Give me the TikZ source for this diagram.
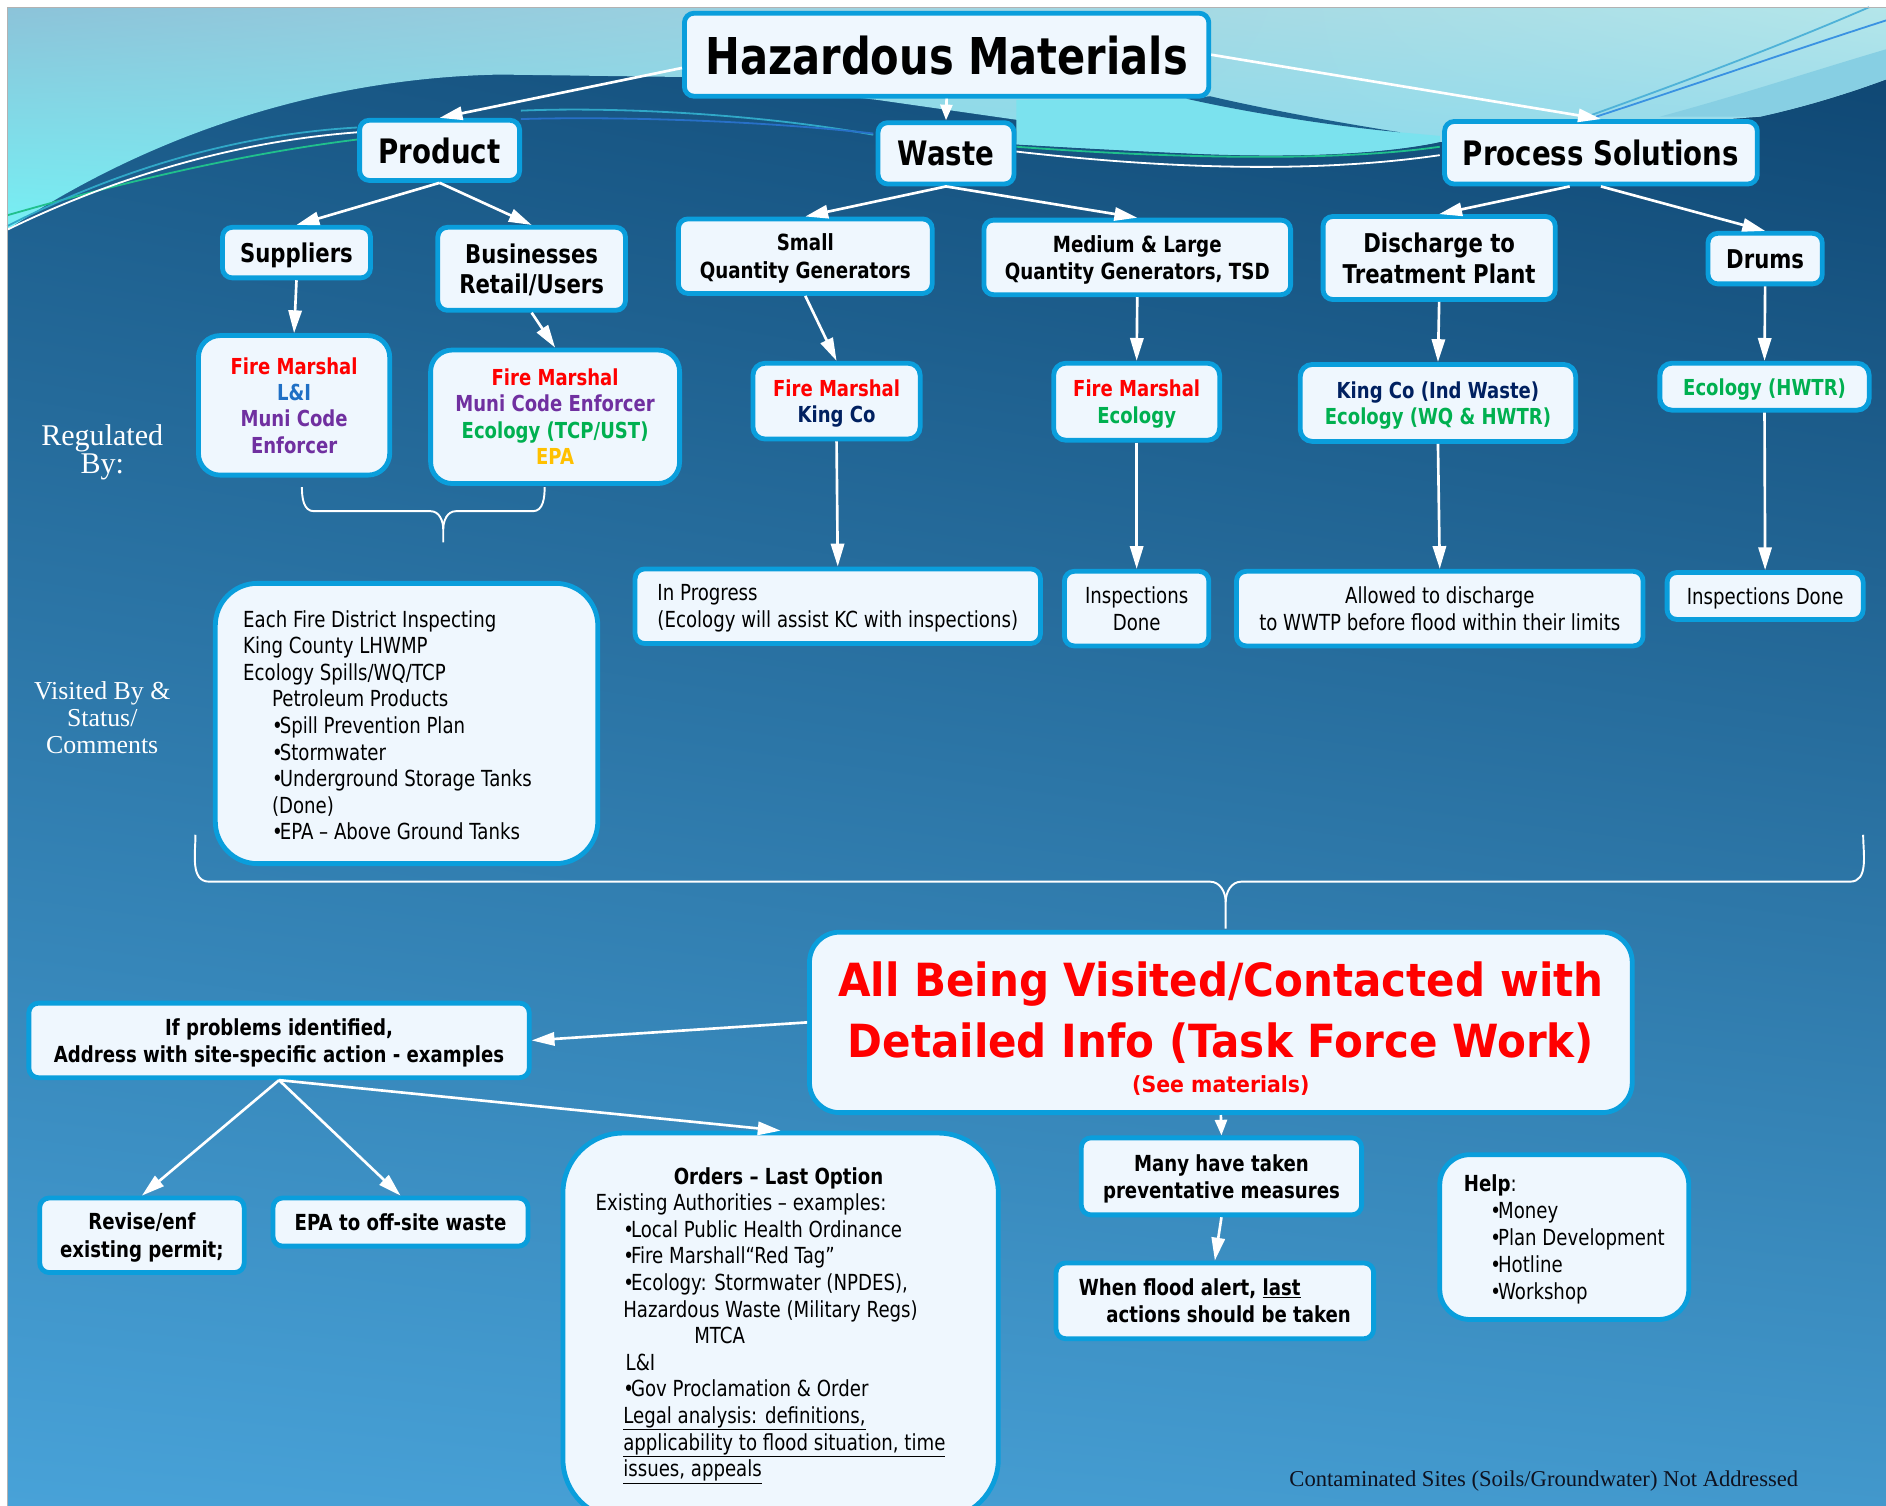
\documentclass[tikz,border=0pt]{standalone}
\usepackage{fontspec}
\setmainfont{DejaVu Sans}[FakeStretch=0.82]
\newfontfamily\redfnt{DejaVu Sans}[FakeStretch=0.92]
\newfontfamily\srf{Liberation Serif}
\usetikzlibrary{arrows.meta,shadings}
\definecolor{bord}{RGB}{10,158,220}
\definecolor{boxfill}{RGB}{239,247,254}
\definecolor{bgUL}{RGB}{24,87,133}
\definecolor{bgUR}{RGB}{13,68,112}
\definecolor{bgLL}{RGB}{72,162,216}
\definecolor{bgLR}{RGB}{66,152,204}
\definecolor{ltUL}{RGB}{140,195,217}
\definecolor{ltUR}{RGB}{180,230,234}
\definecolor{ltLL}{RGB}{118,240,244}
\definecolor{ltLR}{RGB}{134,210,236}
\definecolor{cyanband}{RGB}{123,226,238}
\definecolor{rband}{RGB}{135,207,227}
\definecolor{wedge}{RGB}{27,95,140}
\definecolor{lnGreen}{RGB}{32,192,140}
\definecolor{lnTeal}{RGB}{48,168,200}
\definecolor{lnBlue}{RGB}{40,112,200}
\definecolor{lnSky}{RGB}{79,178,216}
\definecolor{lnDeep}{RGB}{58,146,226}
\definecolor{fm}{RGB}{255,0,0}
\definecolor{li}{RGB}{31,111,197}
\definecolor{mc}{RGB}{112,48,160}
\definecolor{eco}{RGB}{0,176,80}
\definecolor{epa}{RGB}{255,192,0}
\definecolor{kc}{RGB}{0,32,96}
\definecolor{contam}{RGB}{14,18,32}
\newcommand\fTitle{\fontsize{42.2}{48}\selectfont\bfseries}
\newcommand\fOne{\fontsize{28}{32}\selectfont\bfseries}
\newcommand\fTwo{\fontsize{21.5}{25.5}\selectfont\bfseries}
\newcommand\fThree{\fontsize{18.5}{23}\selectfont\bfseries}
\newcommand\fReg{\fontsize{18.3}{22}\selectfont\bfseries}
\newcommand\fBody{\fontsize{18.4}{22.1}\selectfont}
\newcommand\fBodyB{\fontsize{18.4}{22.8}\selectfont\bfseries}
\newcommand\bul{•\kern-2.5pt}
\tikzset{
  hb/.style={draw=bord, fill=boxfill, line width=4pt, rounded corners=8pt,
    inner sep=0pt, align=center, text=black, text depth=-6pt},
  arr/.style={draw=white, line width=2.2pt, -{Triangle[length=19pt,width=11pt,fill=white]}},
  sarr/.style={draw=white, line width=2.2pt, -{Triangle[length=13pt,width=10pt,fill=white]}},
  ln/.style={line width=1.5pt},
  brace/.style={draw=white, line width=1.6pt},
  txt/.style={inner sep=0pt, text=black},
}
\begin{document}
\begin{tikzpicture}[x=1pt,y=-1pt]
\useasboundingbox (0,0) rectangle (1568,1252);
\clip (0,0) rectangle (1568,1252);
\fill[white] (0,0) rectangle (1568,1252);
% background
\shade[upper left=bgUL, upper right=bgUR, lower left=bgLL, lower right=bgLR] (6,6) rectangle (1568,1252);
% light wave region
\shade[upper left=ltUL, upper right=ltUR, lower left=ltLL, lower right=ltLR]
  (6,6) -- (1568,6) -- (1568,66) .. controls (1530,80) and (1495,90) .. (1463,97)
  -- (1197,118) .. controls (1150,128) and (1080,131) .. (1000,128)
  .. controls (930,125) and (880,122) .. (845,120) -- (848,100) -- (729,83)
  -- (567,64) -- (416,62)
  .. controls (300,64) and (150,95) .. (6,191) -- cycle;
% cyan band between Waste and Process Solutions
\fill[cyanband] (845,83) -- (986,82) .. controls (1030,92) and (1100,104) .. (1164,110)
  -- (1197,113) -- (1197,118) .. controls (1150,128) and (1080,131) .. (1000,128)
  .. controls (930,125) and (880,122) .. (845,120) -- cycle;
% dark wedge
\fill[wedge] (986,82) .. controls (1030,92) and (1100,104) .. (1164,110)
  .. controls (1100,100) and (1040,88) .. (1006,80) -- cycle;
% right band
\fill[rband] (1380,97) .. controls (1450,78) and (1510,58) .. (1568,41) -- (1568,66)
  .. controls (1530,80) and (1495,90) .. (1463,97) -- cycle;
% thin lines of the wave
\draw[ln, lnGreen] (6,179) .. controls (100,152) and (200,128) .. (297,116);
\draw[ln, white] (6,191) .. controls (90,150) and (190,118) .. (297,110);
\draw[ln, lnTeal] (6,188) .. controls (90,145) and (190,112) .. (297,106);
\draw[ln, lnTeal] (433,92) .. controls (500,89) and (620,93) .. (726,112);
\draw[ln, lnBlue] (433,99) .. controls (500,97) and (620,99) .. (726,111);
\draw[ln, lnGreen] (845,122) .. controls (950,130) and (1100,136) .. (1197,122);
\draw[ln, white] (845,126) .. controls (950,138) and (1080,146) .. (1197,129);
\draw[ln, lnSky] (1322,96) .. controls (1400,68) and (1480,38) .. (1554,6);
\draw[ln, lnDeep] (1327,97) .. controls (1410,70) and (1490,42) .. (1568,17);
\draw[gray!60, line width=0.8pt] (6,1252) -- (6,6) -- (1568,6);

% side labels
\node[inner sep=0pt, text=white, align=center, font={\srf\fontsize{25}{23}\selectfont}] (regby) at (85,376) {Regulated\\By:};
\node[inner sep=0pt, text=white, align=center, font={\srf\fontsize{21.5}{22.5}\selectfont}] (visited) at (85,597) {Visited By \&\\Status/\\Comments};
\node[inner sep=0pt, text=contam, anchor=base, font={\srf\fontsize{18.8}{22}\selectfont}] (contam) at (1283.5,1236) {Contaminated Sites (Soils/Groundwater)\ Not Addressed};

% braces
\draw[brace] (251,405) to[out=-90,in=180] (261,425) -- (358,425) to[out=0,in=90] (368.5,440) -- (368.5,451);
\draw[brace] (452.8,405) to[out=-90,in=0] (443,425) -- (379,425) to[out=180,in=90] (368.5,440);
\draw[brace] (162.5,694) to[out=-90,in=180] (174,733) -- (1006,733) to[out=0,in=90] (1019,750) -- (1019,772);
\draw[brace] (1549,694) to[out=-90,in=0] (1538,733) -- (1032,733) to[out=180,in=90] (1019,750);

% level 0/1
\node[hb, minimum width=436pt, minimum height=69pt, font=\fTitle] (title) at (787,45.5) {Hazardous Materials};
\node[hb, minimum width=133pt, minimum height=50pt, font=\fOne] (product) at (365.5,125) {Product};
\node[hb, minimum width=113pt, minimum height=51pt, font=\fOne] (waste) at (786.5,127.5) {Waste};
\node[hb, minimum width=260pt, minimum height=52pt, font=\fOne] (ps) at (1331,127) {Process Solutions};
% level 2
\node[hb, minimum width=123pt, minimum height=42pt, font=\fTwo] (suppliers) at (246.5,210) {Suppliers};
\node[hb, minimum width=156pt, minimum height=69pt, font=\fTwo] (business) at (442,223.5) {Businesses\\Retail/Users};
\node[hb, minimum width=211pt, minimum height=62pt, font=\fThree] (sqg) at (669.5,213) {Small\\Quantity Generators};
\node[hb, minimum width=255pt, minimum height=62pt, font=\fThree] (mlqg) at (945.5,214) {Medium \& Large\\Quantity Generators, TSD};
\node[hb, minimum width=193pt, minimum height=69pt, font=\fTwo] (discharge) at (1196.5,214.5) {Discharge to\\Treatment Plant};
\node[hb, minimum width=95pt, minimum height=42pt, font=\fTwo] (drums) at (1467.5,215) {Drums};
% regulated by
\node[hb, rounded corners=18pt, minimum width=159pt, minimum height=116pt, font=\fReg] (r1) at (244.5,337)
  {{\color{fm}Fire Marshal}\\{\color{li}L\&I}\\{\color{mc}Muni Code}\\{\color{mc}Enforcer}};
\node[hb, rounded corners=18pt, minimum width=207pt, minimum height=111pt, font=\fReg] (r2) at (461.5,346.5)
  {{\color{fm}Fire Marshal}\\{\color{mc}Muni Code Enforcer}\\{\color{eco}Ecology\ (TCP/UST)}\\{\color{epa}EPA}};
\node[hb, rounded corners=10pt, minimum width=139pt, minimum height=63pt, font=\fReg] (r3) at (695.5,333.5)
  {{\color{fm}Fire Marshal}\\{\color{kc}King Co}};
\node[hb, rounded corners=10pt, minimum width=138pt, minimum height=64pt, font=\fReg] (r4) at (945,334)
  {{\color{fm}Fire Marshal}\\{\color{eco}Ecology}};
\node[hb, rounded corners=10pt, minimum width=229pt, minimum height=64pt, font=\fReg] (r5) at (1195.5,335)
  {{\color{kc}King Co (Ind Waste)}\\{\color{eco}Ecology\ (WQ \& HWTR)}};
\node[hb, rounded corners=10pt, minimum width=174pt, minimum height=39pt, font=\fReg] (r6) at (1467,321.5)
  {{\color{eco}Ecology\ (HWTR)}};
% visited by / status
\node[hb, rounded corners=35pt, minimum width=318pt, minimum height=233pt] (fire) at (338,601.5) {};
\node[txt, anchor=west, align=left, font=\fBody] (firet) at (202,603)
  {Each Fire District Inspecting\\
   King County LHWMP\\
   Ecology Spills/WQ/TCP\\
   \hspace*{24pt}Petroleum Products\\
   \hspace*{24pt}\bul Spill Prevention Plan\\
   \hspace*{24pt}\bul Stormwater\\
   \hspace*{24pt}\bul Underground Storage Tanks\\
   \hspace*{24pt}(Done)\\
   \hspace*{24pt}\bul EPA – Above Ground Tanks};
\node[hb, align=left, minimum width=337pt, minimum height=62pt, font=\fBody] (inprog) at (696.5,504)
  {In Progress\\(Ecology will assist KC with inspections)};
\node[hb, minimum width=120pt, minimum height=62pt, font=\fBody] (insp1) at (945,506) {Inspections\\Done};
\node[hb, minimum width=338pt, minimum height=62pt, font=\fBody] (allowed) at (1197,506)
  {Allowed to discharge\\to WWTP before flood within their limits};
\node[hb, minimum width=163pt, minimum height=39pt, font=\fBody] (insp2) at (1467.5,495.5) {Inspections Done};
% task force
\node[hb, rounded corners=25pt, minimum width=684pt, minimum height=150pt] (red) at (1015,850) {};
\node[txt, text=fm, align=center, font={\redfnt\fontsize{38}{50.8}\selectfont\bfseries}] (redt) at (1015,842)
  {All Being Visited/Contacted with\\Detailed Info (Task Force Work)};
\node[txt, text=fm, anchor=base, font={\redfnt\fontsize{18.5}{22}\selectfont\bfseries}] (seemat) at (1015,908) {(See materials)};
\node[hb, minimum width=416pt, minimum height=62pt, font=\fBodyB] (ifp) at (232,865)
  {If problems identified,\\Address with site-specific action - examples};
\node[hb, minimum width=170pt, minimum height=62pt, font=\fBodyB] (revise) at (118,1027) {Revise/enf\\existing permit;};
\node[hb, minimum width=212pt, minimum height=40pt, font=\fBodyB] (epa) at (333,1016) {EPA to off-site waste};
\node[hb, rounded corners=50pt, minimum width=362pt, minimum height=321pt] (orders) at (649,1102.5) {};
\node[txt, anchor=west, align=left, font=\fBody] (orderst) at (495,1102)
  {\hspace*{65pt}\textbf{Orders – Last Option}\\
   Existing Authorities – examples:\\
   \hspace*{23pt}\bul Local Public Health Ordinance\\
   \hspace*{23pt}\bul Fire Marshall“Red Tag”\\
   \hspace*{23pt}\bul Ecology: Stormwater (NPDES),\\
   \hspace*{23pt}Hazardous Waste (Military Regs)\\
   \hspace*{82pt}MTCA\\
   \hspace*{25pt}L\&I\\
   \hspace*{23pt}\bul Gov Proclamation \& Order\\
   \hspace*{23pt}\underline{Legal analysis: definitions,}\\
   \hspace*{23pt}\underline{applicability to flood situation, time}\\
   \hspace*{23pt}\underline{issues, appeals}};
\node[hb, minimum width=233pt, minimum height=64pt, font=\fBodyB] (many) at (1015.5,978) {Many have taken\\preventative measures};
\node[hb, align=left, minimum width=264pt, minimum height=63pt, font=\fBodyB] (flood) at (1010,1081.5)
  {When flood alert, \underline{last}\\\hspace*{23pt}actions should be taken};
\node[hb, rounded corners=25pt, align=left, minimum width=207pt, minimum height=137pt,
  font={\fontsize{18.4}{22.5}\selectfont}] (help) at (1300.5,1028.5)
  {\textbf{Help}:\\
   \hspace*{22pt}\bul Money\\
   \hspace*{22pt}\bul Plan Development\\
   \hspace*{22pt}\bul Hotline\\
   \hspace*{22pt}\bul Workshop};

% connectors
\draw[arr] ([yshift=-11pt]title.west) -- (product.north);
\draw[sarr] (title.south) -- (waste.north);
\draw[arr] (title.east) -- (ps.north);
\draw[arr] (product.south) -- (suppliers.north);
\draw[arr] (product.south) -- (business.north);
\draw[arr] (waste.south) -- (sqg.north);
\draw[arr] (waste.south) -- (mlqg.north);
\draw[arr] ([xshift=-26pt]ps.south) -- (discharge.north);
\draw[arr] (ps.south) -- (drums.north);
\draw[arr] (suppliers.south) -- (r1.north);
\draw[arr] (business.south) -- (r2.north);
\draw[arr] (sqg.south) -- (r3.north);
\draw[arr] (mlqg.south) -- (r4.north);
\draw[arr] (discharge.south) -- (r5.north);
\draw[arr] (drums.south) -- (r6.north);
\draw[arr] (r3.south) -- (inprog.north);
\draw[arr] (r4.south) -- (insp1.north);
\draw[arr] (r5.south) -- (allowed.north);
\draw[arr] (r6.south) -- (insp2.north);
\draw[arr] (red.west) -- (ifp.east);
\draw[arr] (ifp.south) -- (revise.north);
\draw[arr] (ifp.south) -- (epa.north);
\draw[arr] (ifp.south) -- (orders.north);
\draw[sarr] (red.south) -- (many.north);
\draw[arr] (many.south) -- (flood.north);
\end{tikzpicture}
\end{document}
